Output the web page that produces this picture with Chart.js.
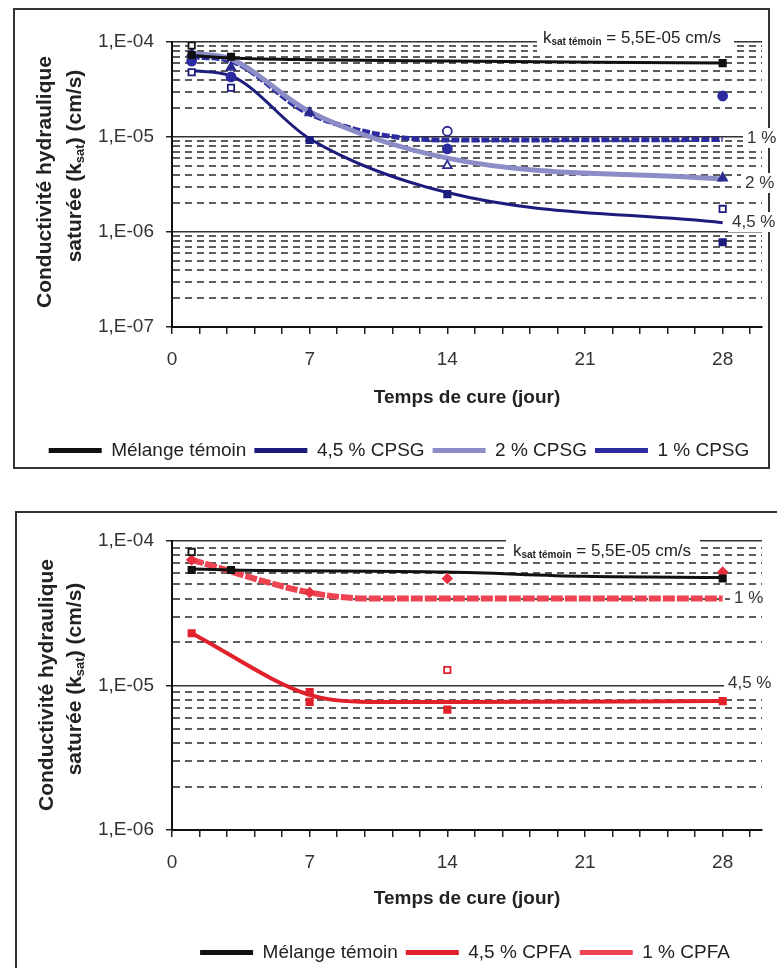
<!DOCTYPE html>
<html>
<head>
<meta charset="utf-8">
<script src="https://cdn.jsdelivr.net/npm/chart.js@4.4.1/dist/chart.umd.min.js"></script>
<style>
	html, body { margin: 0; padding: 0; background: #fff; overflow: hidden; }
	body { width: 777px; height: 968px; position: relative; }
	.frame { position: absolute; border: 2px solid #333; box-sizing: border-box; }
	#frameTop { left: 13px; top: 8px; width: 757px; height: 461px; }
	#frameBottom { left: 15px; top: 511px; width: 800px; height: 500px; }
	canvas { position: absolute; left: 0; }
	#chartTop { top: 0; width: 777px; height: 480px; }
	#chartBottom { top: 490px; width: 777px; height: 500px; }
</style>
</head>
<body>
<div class="frame" id="frameTop"></div>
<div class="frame" id="frameBottom"></div>
<canvas id="chartTop" width="777" height="480"></canvas>
<canvas id="chartBottom" width="777" height="500"></canvas>
<script type="text/javascript">
	/*jshint esversion: 6 */
	// ---- axes ----
	var dayTicks = ['0', '7', '14', '21', '28'];
	var dayValues = [0, 7, 14, 21, 28];
	var decadesTop = [1e-7, 1e-6, 1e-5, 1e-4];
	var decadeLabelsTop = ['1,E-07', '1,E-06', '1,E-05', '1,E-04'];
	var decadesBottom = [1e-6, 1e-5, 1e-4];
	var decadeLabelsBottom = ['1,E-06', '1,E-05', '1,E-04'];

	// ---- top chart: CPSG (trend curves) ----
	var sgDays = [1, 3, 7, 14, 28];
	var temoinSG = [7.2e-5, 6.8e-5, 6.5e-5, 6.3e-5, 6.0e-5];
	var cpsg45 = [5.0e-5, 4.4e-5, 9.6e-6, 2.6e-6, 1.25e-6];
	var cpsg2 = [7.6e-5, 6.6e-5, 1.85e-5, 6.0e-6, 3.6e-6];
	var cpsg1 = [7.0e-5, 6.3e-5, 1.75e-5, 9.3e-6, 9.4e-6];

	// measured points [day, k]
	var temoinSGOpen = [[1, 9.2e-5]];
	var temoinSGFull = [[1, 7.3e-5], [3, 7.0e-5], [28, 6.0e-5]];
	var cpsg45Open = [[1, 4.8e-5], [3, 3.3e-5], [28, 1.75e-6]];
	var cpsg45Full = [[7, 9.3e-6], [14, 2.5e-6], [28, 7.8e-7]];
	var cpsg2Open = [[14, 5.0e-6]];
	var cpsg2Full = [[1, 7.6e-5], [3, 5.4e-5], [7, 1.8e-5], [28, 3.7e-6]];
	var cpsg1Open = [[14, 1.15e-5]];
	var cpsg1Full = [[1, 6.3e-5], [3, 4.3e-5], [14, 7.5e-6], [28, 2.7e-5]];

	// ---- bottom chart: CPFA ----
	var faTemoinDays = [1, 3, 14, 21, 28];
	var temoinFA = [6.4e-5, 6.3e-5, 6.1e-5, 5.7e-5, 5.6e-5];
	var faDays = [1, 7, 10, 14, 28];
	var cpfa45 = [2.3e-5, 8.6e-6, 7.7e-6, 7.7e-6, 7.8e-6];
	var cpfa1 = [7.4e-5, 4.4e-5, 4.0e-5, 4.0e-5, 4.0e-5];

	var temoinFAOpen = [[1, 8.4e-5]];
	var temoinFAFull = [[1, 6.3e-5], [3, 6.3e-5], [28, 5.5e-5]];
	var cpfa45Open = [[14, 1.28e-5]];
	var cpfa45Full = [[1, 2.3e-5], [7, 9.0e-6], [7, 7.7e-6], [14, 6.8e-6], [28, 7.8e-6]];
	var cpfa1Full = [[1, 7.4e-5], [7, 4.4e-5], [14, 5.5e-5], [28, 6.1e-5]];

	var FONT = "'Liberation Sans', Arial, sans-serif";
	Chart.defaults.font.family = FONT;
	Chart.defaults.font.size = 19;
	Chart.defaults.color = '#333';
	Chart.defaults.animation = false;

	function isDecade(v) {
		var l = Math.log10(v);
		return Math.abs(l - Math.round(l)) < 1e-6;
	}

	function trend(label, days, vals, color, width, dash) {
		return {
			type: 'line', label: label,
			data: days.map(function(d, i) { return {x: d, y: vals[i]}; }),
			borderColor: color, backgroundColor: color,
			borderWidth: width, borderDash: dash || [],
			pointRadius: 0, cubicInterpolationMode: 'monotone',
			fill: false, order: 2
		};
	}

	function markers(pts, style, fill, stroke, r) {
		return {
			type: 'scatter', label: '', isMarker: true,
			data: pts.map(function(p) { return {x: p[0], y: p[1]}; }),
			pointStyle: style, pointRadius: r || 4.5, pointHoverRadius: r || 4.5,
			backgroundColor: fill, borderColor: stroke, borderWidth: 1.8, order: 0
		};
	}

	function xScale(height, titlePad) {
		return {
			type: 'linear', min: 0, max: 30,
			afterBuildTicks: function(axis) {
				var t = [];
				for (var i = 0; i <= 21; i++) t.push({value: i * 1.4});
				axis.ticks = t;
			},
			afterFit: function(axis) { axis.height = height; },
			ticks: {
				autoSkip: false, maxRotation: 0, padding: 14, color: '#333',
				callback: function(v) {
					for (var i = 0; i < dayValues.length; i++) {
						if (Math.abs(dayValues[i] - v) < 1e-6) return dayTicks[i];
					}
					return '';
				}
			},
			grid: { drawOnChartArea: false, tickLength: 7, tickColor: '#222', lineWidth: 1.5 },
			border: { color: '#111', width: 2 },
			title: {
				display: true, text: 'Temps de cure (jour)', color: '#222',
				font: {size: 19, weight: 'bold'}, padding: {top: 0, bottom: titlePad}
			}
		};
	}

	function yScale(min, max, decades, labels) {
		return {
			type: 'logarithmic', min: min, max: max,
			afterBuildTicks: function(axis) {
				var t = [];
				var e0 = Math.round(Math.log10(min)), e1 = Math.round(Math.log10(max));
				for (var e = e0; e < e1; e++) {
					for (var k = 1; k < 10; k++) t.push({value: Number((k * Math.pow(10, e)).toPrecision(3))});
				}
				t.push({value: max});
				axis.ticks = t;
			},
			afterFit: function(axis) { axis.width = 172; },
			ticks: {
				autoSkip: false, padding: 12, color: '#333',
				callback: function(v) {
					for (var i = 0; i < decades.length; i++) {
						if (Math.abs(decades[i] - v) / decades[i] < 1e-6) return labels[i];
					}
					return '';
				}
			},
			grid: {
				color: function(c) { return c.tick && isDecade(c.tick.value) ? '#333' : '#5c5c5c'; },
				lineWidth: function(c) { return c.tick && isDecade(c.tick.value) ? 1.5 : 2; },
				tickLength: 6,
				tickColor: function(c) { return c.tick && isDecade(c.tick.value) ? '#222' : 'rgba(0,0,0,0)'; }
			},
			border: {
				color: '#111', width: 2,
				dash: function(c) { return c.tick && !isDecade(c.tick.value) ? [7, 5] : []; }
			}
		};
	}

	function legendOpts() {
		return {
			position: 'bottom',
			labels: {
				boxWidth: 53, boxHeight: 5, padding: 8, color: '#222', font: {size: 19},
				generateLabels: function(chart) {
					var items = Chart.defaults.plugins.legend.labels.generateLabels(chart);
					return items.filter(function(it) {
						return !chart.data.datasets[it.datasetIndex].isMarker;
					}).map(function(it) {
						var ds = chart.data.datasets[it.datasetIndex];
						it.fillStyle = ds.borderColor;
						it.lineWidth = 0;
						it.lineDash = [];
						return it;
					});
				}
			}
		};
	}

	function boxedText(ctx, txt, x, y) {
		ctx.font = '17px ' + FONT;
		var w = ctx.measureText(txt).width;
		ctx.fillStyle = '#fff';
		ctx.fillRect(x - 4, y - 10, w + 8, 20);
		ctx.fillStyle = '#333';
		ctx.textBaseline = 'middle';
		ctx.textAlign = 'left';
		ctx.fillText(txt, x, y);
	}

	function ksatLabel(ctx, x, y, box) {
		ctx.fillStyle = '#fff';
		ctx.fillRect(box[0], box[1], box[2], box[3]);
		ctx.fillStyle = '#222';
		ctx.textBaseline = 'middle';
		ctx.textAlign = 'left';
		ctx.font = '17px ' + FONT;
		ctx.fillText('k', x, y);
		var cx = x + ctx.measureText('k').width;
		ctx.font = 'bold 10px ' + FONT;
		ctx.fillText('sat témoin', cx, y + 4);
		cx += ctx.measureText('sat témoin').width;
		ctx.font = '17px ' + FONT;
		ctx.fillText(' = 5,5E-05 cm/s', cx, y);
	}

	function yTitle(ctx, x1, c1, x2, c2) {
		ctx.save();
		ctx.fillStyle = '#222';
		ctx.textBaseline = 'middle';
		ctx.textAlign = 'center';
		ctx.font = 'bold 21px ' + FONT;
		ctx.translate(x1, c1);
		ctx.rotate(-Math.PI / 2);
		ctx.fillText('Conductivité hydraulique', 0, 0);
		ctx.restore();

		var a = 'saturée (k', s = 'sat', b = ') (cm/s)';
		ctx.save();
		ctx.fillStyle = '#222';
		ctx.textBaseline = 'middle';
		ctx.textAlign = 'left';
		ctx.translate(x2, c2);
		ctx.rotate(-Math.PI / 2);
		ctx.font = 'bold 21px ' + FONT;
		var wa = ctx.measureText(a).width, wb = ctx.measureText(b).width;
		ctx.font = 'bold 13px ' + FONT;
		var ws = ctx.measureText(s).width;
		var x = -(wa + ws + wb) / 2;
		ctx.font = 'bold 21px ' + FONT;
		ctx.fillText(a, x, 0);
		x += wa;
		ctx.font = 'bold 13px ' + FONT;
		ctx.fillText(s, x, 5);
		x += ws;
		ctx.font = 'bold 21px ' + FONT;
		ctx.fillText(b, x, 0);
		ctx.restore();
	}

	function decorations(opts) {
		return {
			id: 'decorations',
			afterLayout: function(chart) {
				chart.legend.left += opts.legendShift;
				chart.legend.right += opts.legendShift;
			},
			beforeDatasetsDraw: function(chart) {
				var ctx = chart.ctx;
				ctx.save();
				ksatLabel(ctx, opts.ksat[0], opts.ksat[1], opts.ksatBox);
				opts.side.forEach(function(s) { boxedText(ctx, s[0], s[1], s[2]); });
				ctx.restore();
			},
			afterDraw: function(chart) {
				yTitle(chart.ctx, opts.title[0], opts.title[1], opts.title[2], opts.title[3]);
			}
		};
	}

	// ---- top chart ----
	var topChart = new Chart(document.getElementById('chartTop').getContext('2d'), {
		type: 'line',
		data: {
			datasets: [
				trend('Mélange témoin', sgDays, temoinSG, '#111111', 3),
				trend('4,5 % CPSG', sgDays, cpsg45, '#1c1c7c', 3),
				trend('2 % CPSG', sgDays, cpsg2, '#8c8cc6', 5),
				trend('1 % CPSG', sgDays, cpsg1, '#2c2ca0', 5, [8, 2]),
				markers(temoinSGOpen, 'rect', '#ffffff', '#111111'),
				markers(temoinSGFull, 'rect', '#111111', '#111111'),
				markers(cpsg45Open, 'rect', '#ffffff', '#1c1c7c'),
				markers(cpsg45Full, 'rect', '#1c1c7c', '#1c1c7c'),
				markers(cpsg2Open, 'triangle', '#ffffff', '#2c2c90', 5),
				markers(cpsg2Full, 'triangle', '#2c2c90', '#2c2c90', 5),
				markers(cpsg1Open, 'circle', '#ffffff', '#2c2c90'),
				markers(cpsg1Full, 'circle', '#2c2ca0', '#2c2ca0')
			]
		},
		options: {
			responsive: false,
			layout: { padding: {left: 0, right: 15, top: 42, bottom: 10} },
			scales: {
				x: xScale(106, 24),
				y: yScale(1e-7, 1e-4, decadesTop, decadeLabelsTop)
			},
			plugins: {
				legend: legendOpts(),
				tooltip: { enabled: false }
			}
		},
		plugins: [decorations({
			legendShift: 18,
			ksat: [543, 38], ksatBox: [537, 27, 197, 25],
			side: [['1 %', 747, 138], ['2 %', 745, 183], ['4,5 %', 732, 222]],
			title: [45, 182, 75, 166]
		})]
	});

	// ---- bottom chart ----
	var bottomChart = new Chart(document.getElementById('chartBottom').getContext('2d'), {
		type: 'line',
		data: {
			datasets: [
				trend('Mélange témoin', faTemoinDays, temoinFA, '#111111', 3),
				trend('4,5 % CPFA', faDays, cpfa45, '#e0202a', 4),
				trend('1 % CPFA', faDays, cpfa1, '#ee4452', 6, [12, 2]),
				markers(temoinFAOpen, 'rect', '#ffffff', '#111111'),
				markers(temoinFAFull, 'rect', '#111111', '#111111'),
				markers(cpfa45Open, 'rect', '#ffffff', '#e0202a'),
				markers(cpfa45Full, 'rect', '#e0202a', '#e0202a'),
				markers(cpfa1Full, 'rectRot', '#e83040', '#e83040')
			]
		},
		options: {
			responsive: false,
			layout: { padding: {left: 0, right: 15, top: 51, bottom: 18} },
			scales: {
				x: xScale(105, 25),
				y: yScale(1e-6, 1e-4, decadesBottom, decadeLabelsBottom)
			},
			plugins: {
				legend: legendOpts(),
				tooltip: { enabled: false }
			}
		},
		plugins: [decorations({
			legendShift: 84,
			ksat: [513, 61], ksatBox: [506, 46, 194, 26],
			side: [['1 %', 734, 108], ['4,5 %', 728, 193]],
			title: [47, 195, 75, 189]
		})]
	});
</script>
</body>
</html>
